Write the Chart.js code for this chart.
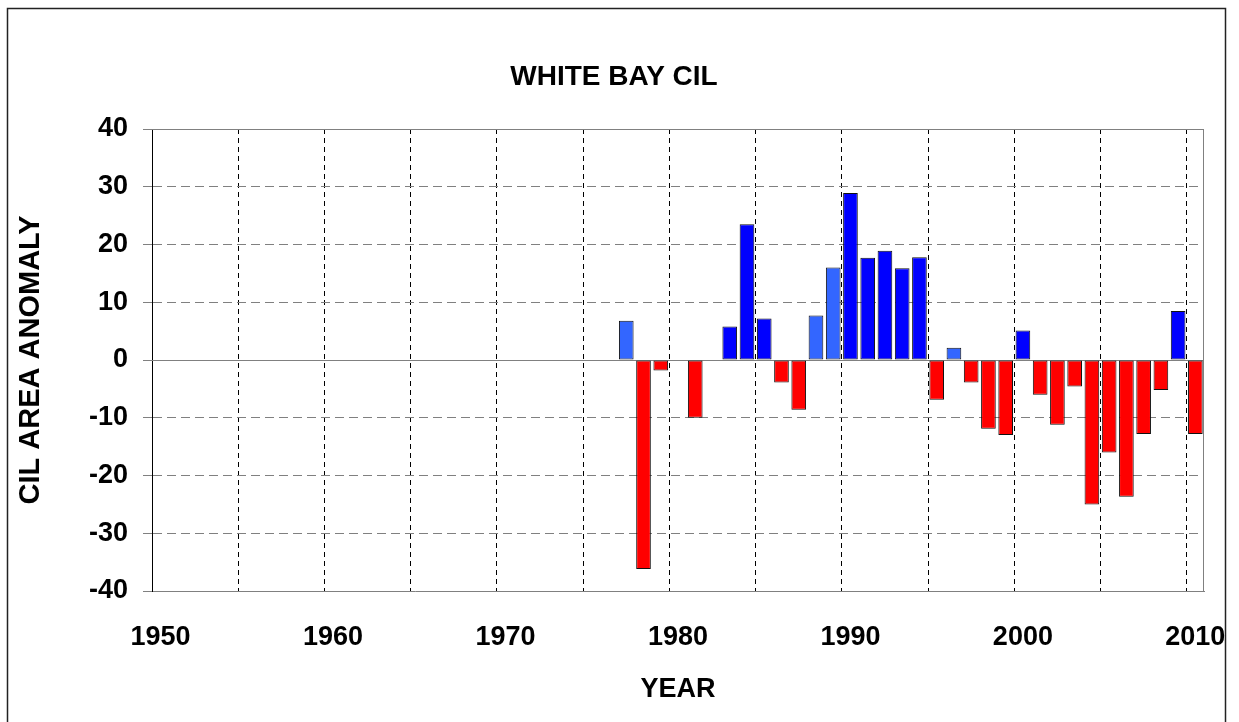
<!DOCTYPE html>
<html>
<head>
<meta charset="utf-8">
<title>White Bay CIL</title>
<script src="https://cdn.jsdelivr.net/npm/chart.js@4.4.1/dist/chart.umd.min.js"></script>
<style>
	html, body { margin: 0; padding: 0; background: #fff; }
	#wrap { width: 1239px; height: 722px; }
</style>
</head>
<body>
<div id="wrap"><canvas id="cilChart" width="1239" height="722"></canvas></div>
<script>
// CIL area anomaly, White Bay
const years = [
	1977, 1978, 1979, 1981, 1983, 1984, 1985, 1986, 1987, 1988, 1989,
	1990, 1991, 1992, 1993, 1994, 1995, 1996, 1997, 1998, 1999,
	2000, 2001, 2002, 2003, 2004, 2005, 2006, 2007, 2008, 2009, 2010,
];
const anomalies = [
	6.8, -36.2, -1.8, -10.0, 5.8, 23.5, 7.2, -3.9, -8.6, 7.7, 16.0,
	28.9, 17.7, 18.9, 15.9, 17.8, -6.9, 2.1, -3.9, -11.9, -13.0,
	5.1, -6.0, -11.2, -4.6, -25.0, -16.0, -23.7, -12.8, -5.2, 8.5, -12.8,
];
// years drawn in the lighter blue in the original
const paleYears = [1977, 1988, 1989, 1996];

const xTicks = { min: 1950, max: 2011, step: 5, labelStep: 10 };
const yTicks = { min: -40, max: 40, step: 10 };

const FONT = "'Liberation Sans', Arial, sans-serif";

function barColour(year, value) {
	if (value < 0) return '#ff0000';
	return paleYears.includes(year) ? '#3366ff' : '#0000ff';
}

// plot frame, zero line and the outer border
const framePlugin = {
	id: 'frame',
	beforeDatasetsDraw(chart) {
		const { ctx, chartArea: a, scales } = chart;
		const y0 = Math.round(scales.y.getPixelForValue(0)) + 0.5;
		ctx.save();
		ctx.strokeStyle = '#808080';
		ctx.lineWidth = 1;
		ctx.beginPath();
		ctx.moveTo(a.left, y0);
		ctx.lineTo(a.right, y0);
		ctx.moveTo(a.left, Math.round(a.top) + 0.5);
		ctx.lineTo(a.right, Math.round(a.top) + 0.5);
		ctx.moveTo(Math.round(a.right) - 0.5, a.top);
		ctx.lineTo(Math.round(a.right) - 0.5, a.bottom);
		ctx.stroke();
		ctx.restore();
	},
	afterDraw(chart) {
		const { ctx } = chart;
		ctx.save();
		ctx.strokeStyle = '#222';
		ctx.lineWidth = 1.5;
		ctx.strokeRect(7.5, 8.5, 1218, 740);
		ctx.restore();
	},
};

const ctx = document.getElementById('cilChart').getContext('2d');
new Chart(ctx, {
	type: 'bar',
	data: {
		datasets: [
			{
				// each bar fills its own year, so it sits in the middle of it
				data: years.map((yr, i) => ({ x: yr + 0.5, y: anomalies[i] })),
				backgroundColor: years.map((yr, i) => barColour(yr, anomalies[i])),
				borderColor: '#111',
				borderWidth: 1,
				borderSkipped: false,
				barPercentage: 0.85,
				categoryPercentage: 1.0,
			},
		],
	},
	options: {
		responsive: false,
		animation: false,
		layout: { padding: { left: 24, right: 35, top: 0, bottom: 0 } },
		plugins: {
			legend: { display: false },
			tooltip: { enabled: false },
			title: {
				display: true,
				text: 'WHITE BAY CIL',
				color: '#000',
				font: { family: FONT, size: 28, weight: 'bold' },
				padding: { top: 60, bottom: 35.4 },
			},
		},
		scales: {
			x: {
				type: 'linear',
				min: xTicks.min,
				max: xTicks.max,
				offset: false,
				afterFit: (scale) => {
					scale.height = 131;
					scale.paddingLeft = 0;
					scale.paddingRight = 0;
				},
				grid: {
					offset: false,
					color: '#000',
					lineWidth: 1,
					drawTicks: false,
				},
				border: { display: true, color: '#808080', width: 1, dash: [5, 4] },
				ticks: {
					stepSize: xTicks.step,
					includeBounds: false,
					autoSkip: false,
					maxRotation: 0,
					padding: 30,
					labelOffset: 8.6,
					color: '#000',
					font: { family: FONT, size: 27, weight: 'bold' },
					callback: (v) => (v % xTicks.labelStep === 0 ? String(v) : ''),
				},
				title: {
					display: true,
					text: 'YEAR',
					color: '#000',
					font: { family: FONT, size: 27, weight: 'bold' },
					padding: { top: 0, bottom: 16 },
				},
			},
			y: {
				min: yTicks.min,
				max: yTicks.max,
				afterFit: (scale) => {
					scale.width = 128;
				},
				grid: {
					color: '#808080',
					lineWidth: 1,
					drawTicks: true,
					tickLength: 9,
					tickColor: '#808080',
				},
				border: { display: true, color: '#000', width: 1, dash: [9, 5] },
				ticks: {
					stepSize: yTicks.step,
					padding: 15,
					color: '#000',
					font: { family: FONT, size: 27, weight: 'bold' },
					callback: (v) => String(v),
				},
				title: {
					display: true,
					text: 'CIL AREA ANOMALY',
					color: '#000',
					font: { family: FONT, size: 29, weight: 'bold' },
					padding: { top: -10, bottom: 0 },
				},
			},
		},
	},
	plugins: [framePlugin],
});
</script>
</body>
</html>
